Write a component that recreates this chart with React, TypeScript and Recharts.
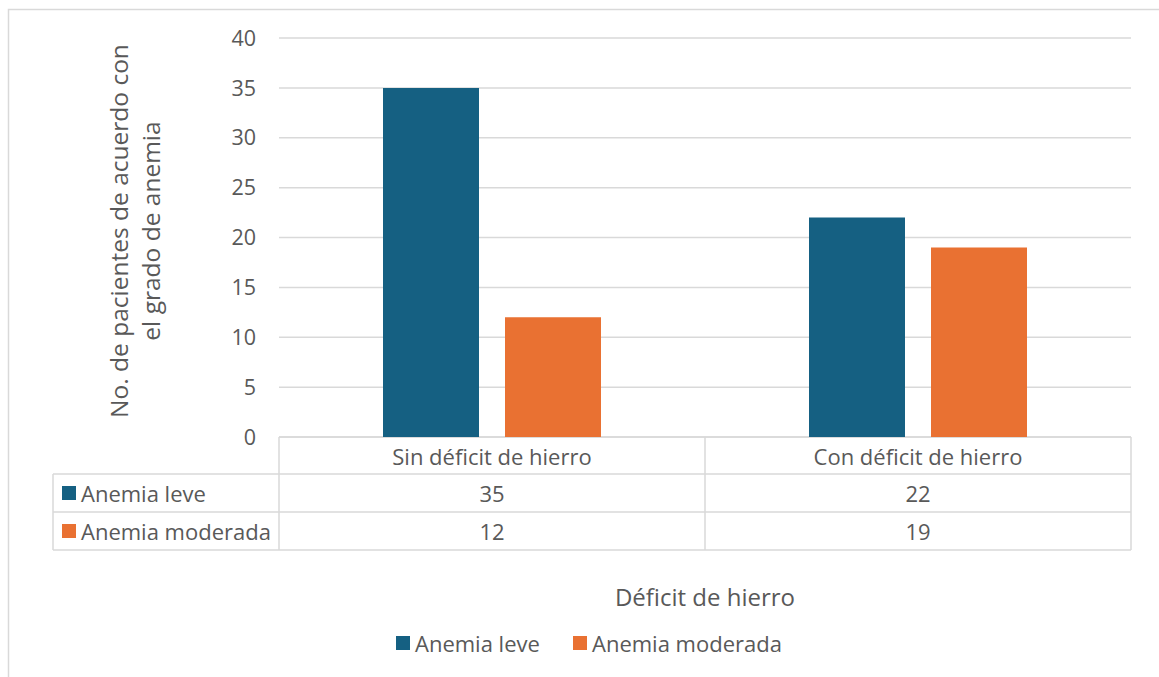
import { Bar, BarChart, CartesianGrid, Customized, XAxis, YAxis } from 'recharts';

const categories = ['Sin déficit de hierro', 'Con déficit de hierro'];
const anemiaLeve = [35, 22];
const anemiaModerada = [12, 19];
const yTicks = [0, 5, 10, 15, 20, 25, 30, 35, 40];
const seriesNames = ['Anemia leve', 'Anemia moderada'];
const seriesColors = ['#156082', '#E97132'];
const yTitleLines = ['No. de pacientes de acuerdo con', 'el grado de anemia'];
const xTitle = 'Déficit de hierro';

const data = categories.map((category, i) => ({
	category,
	leve: anemiaLeve[i],
	moderada: anemiaModerada[i],
}));

const FONT = '"Open Sans", sans-serif';
const TEXT = '#595959';
const LINE = '#d9d9d9';

// layout of the chart frame (Excel style)
const W = 1159;
const H = 677;
const plotLeft = 279;
const plotRight = 1131;
const plotTop = 38;
const plotBottom = 437;
const tableLeft = 53;
const rowBottoms = [474, 512, 550];

const seriesValues = [anemiaLeve, anemiaModerada];

// data table under the plot, with the category names and values
const DataTable = () => {
	const colWidth = (plotRight - plotLeft) / categories.length;
	const rowTops = [plotBottom, rowBottoms[0], rowBottoms[1]];
	return (
		<g fontFamily={FONT} fill={TEXT}>
			<rect x={8.5} y={9.5} width={W} height={H} fill='none' stroke={LINE} strokeWidth={1.5} />
			<line x1={plotLeft} x2={plotRight} y1={plotBottom} y2={plotBottom} stroke={LINE} strokeWidth={1.5} />
			{rowBottoms.map((y) => (
				<line key={y} x1={tableLeft} x2={plotRight} y1={y} y2={y} stroke={LINE} strokeWidth={1.5} />
			))}
			<line x1={tableLeft} x2={tableLeft} y1={rowBottoms[0]} y2={rowBottoms[2]} stroke={LINE} strokeWidth={1.5} />
			{categories.map((_, i) => (
				<line
					key={i}
					x1={plotLeft + i * colWidth}
					x2={plotLeft + i * colWidth}
					y1={plotBottom}
					y2={rowBottoms[2]}
					stroke={LINE}
					strokeWidth={1.5}
				/>
			))}
			<line x1={plotRight} x2={plotRight} y1={plotBottom} y2={rowBottoms[2]} stroke={LINE} strokeWidth={1.5} />
			{categories.map((c, i) => (
				<text
					key={c}
					x={plotLeft + (i + 0.5) * colWidth}
					y={(rowTops[0] + rowBottoms[0]) / 2}
					textAnchor='middle'
					dominantBaseline='central'
					fontSize={22}
					fill={TEXT}>
					{c}
				</text>
			))}
			{seriesNames.map((name, s) => {
				const cy = (rowTops[s + 1] + rowBottoms[s + 1]) / 2;
				return (
					<g key={name}>
						<rect x={62} y={cy - 7} width={14} height={14} fill={seriesColors[s]} />
						<text x={81} y={cy} dominantBaseline='central' fontSize={22} fill={TEXT}>
							{name}
						</text>
						{seriesValues[s].map((v, i) => (
							<text
								key={i}
								x={plotLeft + (i + 0.5) * colWidth}
								y={cy}
								textAnchor='middle'
								dominantBaseline='central'
								fontSize={22}
								fill={TEXT}>
								{v}
							</text>
						))}
					</g>
				);
			})}
			<text x={705} y={596} textAnchor='middle' dominantBaseline='central' fontSize={24} fill={TEXT}>
				{xTitle}
			</text>
			{yTitleLines.map((line, i) => (
				<text
					key={line}
					x={118 + i * 32}
					y={231}
					transform={`rotate(-90, ${118 + i * 32}, 231)`}
					textAnchor='middle'
					dominantBaseline='central'
					fontSize={24.5}
					fill={TEXT}>
					{line}
				</text>
			))}
			<rect x={396} y={636} width={14} height={14} fill={seriesColors[0]} />
			<text x={415} y={643} dominantBaseline='central' fontSize={22} fill={TEXT}>
				{seriesNames[0]}
			</text>
			<rect x={573} y={636} width={14} height={14} fill={seriesColors[1]} />
			<text x={592} y={643} dominantBaseline='central' fontSize={22} fill={TEXT}>
				{seriesNames[1]}
			</text>
		</g>
	);
};

export default function App() {
	return (
		<div style={{ position: 'absolute', left: 0, top: 0, width: W, height: H, background: '#fff' }}>
			<BarChart
				width={W}
				height={H}
				data={data}
				margin={{ top: plotTop, right: W - plotRight, left: plotLeft - 60, bottom: H - plotBottom }}
				barCategoryGap={104}
				barGap={26}>
				<CartesianGrid vertical={false} stroke={LINE} strokeWidth={1.5} />
				<XAxis dataKey='category' hide />
				<YAxis
					width={60}
					domain={[0, 40]}
					ticks={yTicks}
					axisLine={false}
					tickLine={false}
					tickMargin={17}
					tick={{ fill: TEXT, fontSize: 21.5, fontFamily: FONT }}
				/>
				<Bar dataKey='leve' name={seriesNames[0]} fill={seriesColors[0]} isAnimationActive={false} />
				<Bar dataKey='moderada' name={seriesNames[1]} fill={seriesColors[1]} isAnimationActive={false} />
				<Customized component={DataTable} />
			</BarChart>
		</div>
	);
}
